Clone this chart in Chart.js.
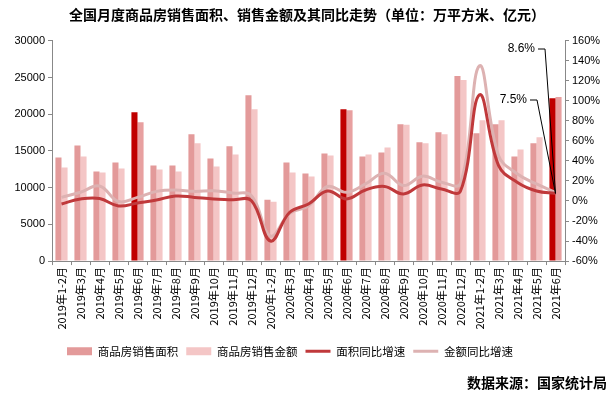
<!DOCTYPE html>
<html>
<head>
<meta charset="utf-8">
<script src="https://cdn.jsdelivr.net/npm/chart.js@4"></script>
<style>
  body { margin: 0; background: #fff; }
  #wrap { width: 614px; height: 399px; }
</style>
</head>
<body>
<div id="wrap"><canvas id="salesChart"></canvas></div>
<script>
const months = [
    '2019年1-2月', '2019年3月', '2019年4月', '2019年5月', '2019年6月', '2019年7月',
    '2019年8月', '2019年9月', '2019年10月', '2019年11月', '2019年12月',
    '2020年1-2月', '2020年3月', '2020年4月', '2020年5月', '2020年6月', '2020年7月',
    '2020年8月', '2020年9月', '2020年10月', '2020年11月', '2020年12月',
    '2021年1-2月', '2021年3月', '2021年4月', '2021年5月', '2021年6月'
];
// 万平方米
const areaSold = [14100, 15750, 12200, 13430, 20280, 13010, 13010, 17260, 13970, 15620, 22600,
    8360, 13430, 11920, 14660, 20690, 14250, 14800, 18630, 16170, 17530, 25210,
    17400, 18630, 14250, 16030, 22190];
// 亿元
const amountSold = [12740, 14250, 12060, 12600, 18900, 12470, 12190, 16030, 12880, 14520, 20690,
    8080, 12060, 11510, 14380, 20550, 14520, 15480, 18550, 16030, 17260, 24660,
    19180, 19180, 15210, 16850, 22330];
// 同比 %
const areaYoY = [-3.0, 2.0, 2.5, -5.0, -2.0, 1.0, 5.0, 3.6, 2.0, 1.3, 0.3,
    -40.0, -11.5, -3.0, 10.0, 2.0, 11.0, 14.5, 7.0, 16.0, 12.0, 10.0,
    106.0, 35.5, 18.5, 10.0, 7.5];
const amountYoY = [3.6, 8.7, 15.0, -0.5, 3.6, 9.6, 11.0, 9.6, 10.3, 8.0, 5.3,
    -35.0, -12.5, -5.0, 14.5, 8.7, 17.0, 27.8, 15.4, 24.8, 18.7, 17.7,
    135.0, 45.5, 27.0, 17.0, 8.6];

const areaColor = '#e39a9a';
const amountColor = '#f4c6c6';
const hiArea = '#c00000';
const hiAmount = '#e8a0a0';
const isJune = months.map(m => m.endsWith('6月'));

const cnFont = "'Noto Sans CJK SC', sans-serif";

const sourceNote = {
    id: 'sourceNote',
    afterDraw(chart) {
        const ctx = chart.ctx;
        ctx.save();
        ctx.font = "bold 14px " + cnFont;
        ctx.fillStyle = '#000';
        ctx.textAlign = 'right';
        ctx.textBaseline = 'middle';
        ctx.fillText('数据来源：国家统计局', 607, 383);
        ctx.restore();
    }
};

// legend sits a bit left of centre and lower in the original
const legendShift = {
    id: 'legendShift',
    afterLayout(chart) {
        const lg = chart.legend;
        lg.left -= 17;
        lg.right -= 17;
        lg.top += 6;
        lg.bottom += 6;
    }
};

const lastLabels = {
    id: 'lastLabels',
    afterDatasetsDraw(chart) {
        const ctx = chart.ctx;
        const pt = chart.getDatasetMeta(2).data[26];
        ctx.save();
        ctx.strokeStyle = '#000';
        ctx.lineWidth = 1;
        ctx.font = "12px 'Liberation Sans', sans-serif";
        ctx.fillStyle = '#000';
        ctx.textAlign = 'right';
        ctx.textBaseline = 'middle';
        const marks = [
            { text: areaYoY[26] + '%', x: 537, y: 100 },
            { text: amountYoY[26] + '%', x: 545, y: 49 }
        ];
        marks.forEach(m => {
            ctx.beginPath();
            ctx.moveTo(pt.x, pt.y);
            ctx.lineTo(m.x, m.y);
            ctx.lineTo(m.x - 7, m.y);
            ctx.stroke();
            ctx.fillText(m.text, m.x - 10, m.y);
        });
        ctx.restore();
    }
};

let chart = new Chart(document.getElementById('salesChart'), {
    type: 'bar',
    data: {
        labels: months,
        datasets: [{
            label: '商品房销售面积',
            data: areaSold,
            backgroundColor: isJune.map(j => j ? hiArea : areaColor),
            yAxisID: 'y',
            categoryPercentage: 0.64,
            barPercentage: 1,
            order: 2
        }, {
            label: '商品房销售金额',
            data: amountSold,
            backgroundColor: isJune.map(j => j ? hiAmount : amountColor),
            yAxisID: 'y',
            categoryPercentage: 0.64,
            barPercentage: 1,
            order: 2
        }, {
            type: 'line',
            label: '面积同比增速',
            data: areaYoY,
            borderColor: '#c0393b',
            backgroundColor: '#c0393b',
            borderWidth: 3,
            pointRadius: 0,
            tension: 0.4,
            yAxisID: 'y1',
            order: 1
        }, {
            type: 'line',
            label: '金额同比增速',
            data: amountYoY,
            borderColor: '#ddb2b2',
            backgroundColor: '#ddb2b2',
            borderWidth: 3,
            pointRadius: 0,
            tension: 0.4,
            yAxisID: 'y1',
            order: 1
        }]
    },
    options: {
        responsive: true,
        maintainAspectRatio: false,
        animation: false,
        layout: { padding: { left: 0, right: 0, top: 0, bottom: 38 } },
        plugins: {
            title: {
                display: true,
                text: '全国月度商品房销售面积、销售金额及其同比走势（单位：万平方米、亿元）',
                color: '#000',
                font: { family: cnFont, size: 14, weight: 'bold' },
                padding: { top: 6, bottom: 18 }
            },
            legend: {
                position: 'bottom',
                labels: {
                    usePointStyle: true,
                    pointStyleWidth: 25,
                    boxHeight: 8,
                    color: '#000',
                    padding: 8,
                    font: { family: cnFont, size: 11.5 },
                    generateLabels(c) {
                        return c.data.datasets.map((ds, i) => {
                            const bar = i < 2;
                            const col = bar ? (i === 0 ? areaColor : amountColor) : ds.borderColor;
                            return {
                                text: ds.label,
                                fillStyle: col,
                                strokeStyle: col,
                                lineWidth: bar ? 0 : 3,
                                pointStyle: bar ? 'rect' : 'line',
                                datasetIndex: i,
                                hidden: false
                            };
                        });
                    }
                }
            },
            tooltip: { enabled: false }
        },
        scales: {
            x: {
                grid: { drawOnChartArea: false, color: '#888', tickLength: 4 },
                border: { color: '#888' },
                ticks: {
                    autoSkip: false,
                    maxRotation: 90,
                    minRotation: 90,
                    color: '#000',
                    padding: 2,
                    font: { family: cnFont, size: 11 }
                }
            },
            y: {
                position: 'left',
                min: 0,
                max: 30000,
                ticks: {
                    stepSize: 5000,
                    color: '#000',
                    font: { family: "'Liberation Sans', sans-serif", size: 11 },
                    callback: v => String(v)
                },
                grid: { drawOnChartArea: false, color: '#888', tickLength: 4 },
                border: { color: '#888' },
                afterFit(s) { s.width = 52; }
            },
            y1: {
                position: 'right',
                min: -60,
                max: 160,
                ticks: {
                    stepSize: 20,
                    color: '#000',
                    font: { family: "'Liberation Sans', sans-serif", size: 11 },
                    callback: v => v + '%'
                },
                grid: { drawOnChartArea: false, color: '#888', tickLength: 4 },
                border: { color: '#888' },
                afterFit(s) { s.width = 49; }
            }
        }
    },
    plugins: [sourceNote, legendShift, lastLabels]
});
</script>
</body>
</html>
